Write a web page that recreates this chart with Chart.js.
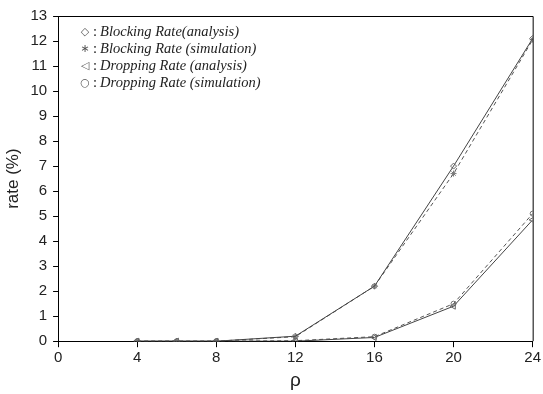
<!DOCTYPE html>
<html>
<head>
<meta charset="utf-8">
<script src="https://cdn.jsdelivr.net/npm/chart.js@4.4.0/dist/chart.umd.min.js"></script>
<style>
  html, body { margin: 0; padding: 0; background: #fff; }
  #wrap { width: 543px; height: 394px; }
</style>
</head>
<body>
<div id="wrap"><canvas id="rate"></canvas></div>
<script>
var rho = [4, 6, 8, 12, 16, 20, 24];
var blockAnalysis = [0, 0, 0, 0.2, 2.2, 7.0, 12.1];
var blockSimulation = [0, 0, 0, 0.18, 2.2, 6.7, 12.05];
var dropAnalysis = [0, 0, 0, 0, 0.15, 1.4, 4.85];
var dropSimulation = [0, 0, 0, 0.02, 0.18, 1.5, 5.1];

var labels = ['Blocking Rate(analysis)', 'Blocking Rate (simulation)',
              'Dropping Rate (analysis)', 'Dropping Rate (simulation)'];
var symbols = ['\u25C7', '\u2217', '\u25C1', '\u25CB'];

var toPoints = function(vals) {
    return vals.map(function(v, i) { return {x: rho[i], y: v}; });
};

// box on top/right plus the text legend in the upper left corner
var frame = {
    id: 'frame',
    afterDraw: function(chart) {
        var a = chart.chartArea, ctx = chart.ctx;
        ctx.save();
        ctx.strokeStyle = '#000';
        ctx.lineWidth = 1;
        ctx.beginPath();
        ctx.moveTo(a.left, a.top + 0.5);
        ctx.lineTo(a.right + 0.5, a.top + 0.5);
        ctx.lineTo(a.right + 0.5, a.bottom);
        ctx.stroke();

        ctx.textBaseline = 'middle';
        for (var i = 0; i < labels.length; i++) {
            var y = a.top + 16 + i * 17;
            ctx.font = '11px "DejaVu Sans"';
            ctx.textAlign = 'center';
            ctx.fillStyle = '#555';
            ctx.fillText(symbols[i], a.left + 27, y);
            ctx.fillStyle = '#222';
            ctx.textAlign = 'left';
            ctx.font = '14.5px "Liberation Serif"';
            ctx.fillText(':', a.left + 35, y);
            ctx.font = 'italic 14.5px "Liberation Serif"';
            ctx.fillText(labels[i], a.left + 42, y);
        }
        ctx.restore();
    }
};

window.onload = function() {
    var ctx = document.getElementById('rate').getContext('2d');
    window.myChart = new Chart(ctx, {
        type: 'line',
        data: {
            datasets: [{
                label: labels[0],
                data: toPoints(blockAnalysis),
                borderColor: '#444',
                borderWidth: 1,
                pointStyle: 'rectRot',
                pointRadius: 3,
                pointBorderColor: '#666',
                pointBackgroundColor: 'rgba(0,0,0,0)',
                pointBorderWidth: 1
            }, {
                label: labels[1],
                data: toPoints(blockSimulation),
                borderColor: '#555',
                borderWidth: 1,
                borderDash: [4, 3],
                pointStyle: 'star',
                pointRadius: 3,
                pointBorderColor: '#777',
                pointBackgroundColor: 'rgba(0,0,0,0)',
                pointBorderWidth: 1
            }, {
                label: labels[2],
                data: toPoints(dropAnalysis),
                borderColor: '#444',
                borderWidth: 1,
                pointStyle: 'triangle',
                pointRotation: -90,
                pointRadius: 3.5,
                pointBorderColor: '#666',
                pointBackgroundColor: 'rgba(0,0,0,0)',
                pointBorderWidth: 1
            }, {
                label: labels[3],
                data: toPoints(dropSimulation),
                borderColor: '#555',
                borderWidth: 1,
                borderDash: [4, 3],
                pointStyle: 'circle',
                pointRadius: 2.5,
                pointBorderColor: '#777',
                pointBackgroundColor: 'rgba(0,0,0,0)',
                pointBorderWidth: 1
            }]
        },
        options: {
            responsive: true,
            maintainAspectRatio: false,
            animation: false,
            layout: { padding: { left: 2, right: 2, top: 16, bottom: 2 } },
            plugins: {
                legend: { display: false },
                tooltip: { enabled: false }
            },
            scales: {
                x: {
                    type: 'linear',
                    min: 0,
                    max: 24,
                    ticks: { stepSize: 4, color: '#222', padding: 2,
                             font: { family: 'Liberation Sans', size: 15 } },
                    grid: { display: true, drawOnChartArea: false, drawTicks: true,
                            tickLength: 6, color: '#000' },
                    border: { color: '#000', width: 1 },
                    title: { display: true, text: 'ρ', color: '#222', padding: 0,
                             font: { family: 'Liberation Sans', size: 19 } }
                },
                y: {
                    min: 0,
                    max: 13,
                    ticks: { stepSize: 1, color: '#222', padding: 6,
                             font: { family: 'Liberation Sans', size: 15 } },
                    grid: { display: true, drawOnChartArea: false, drawTicks: true,
                            tickLength: 5, color: '#000' },
                    border: { color: '#000', width: 1 },
                    title: { display: true, text: 'rate (%)', color: '#222', padding: 1,
                             font: { family: 'Liberation Sans', size: 17 } }
                }
            }
        },
        plugins: [frame]
    });
};
</script>
</body>
</html>
